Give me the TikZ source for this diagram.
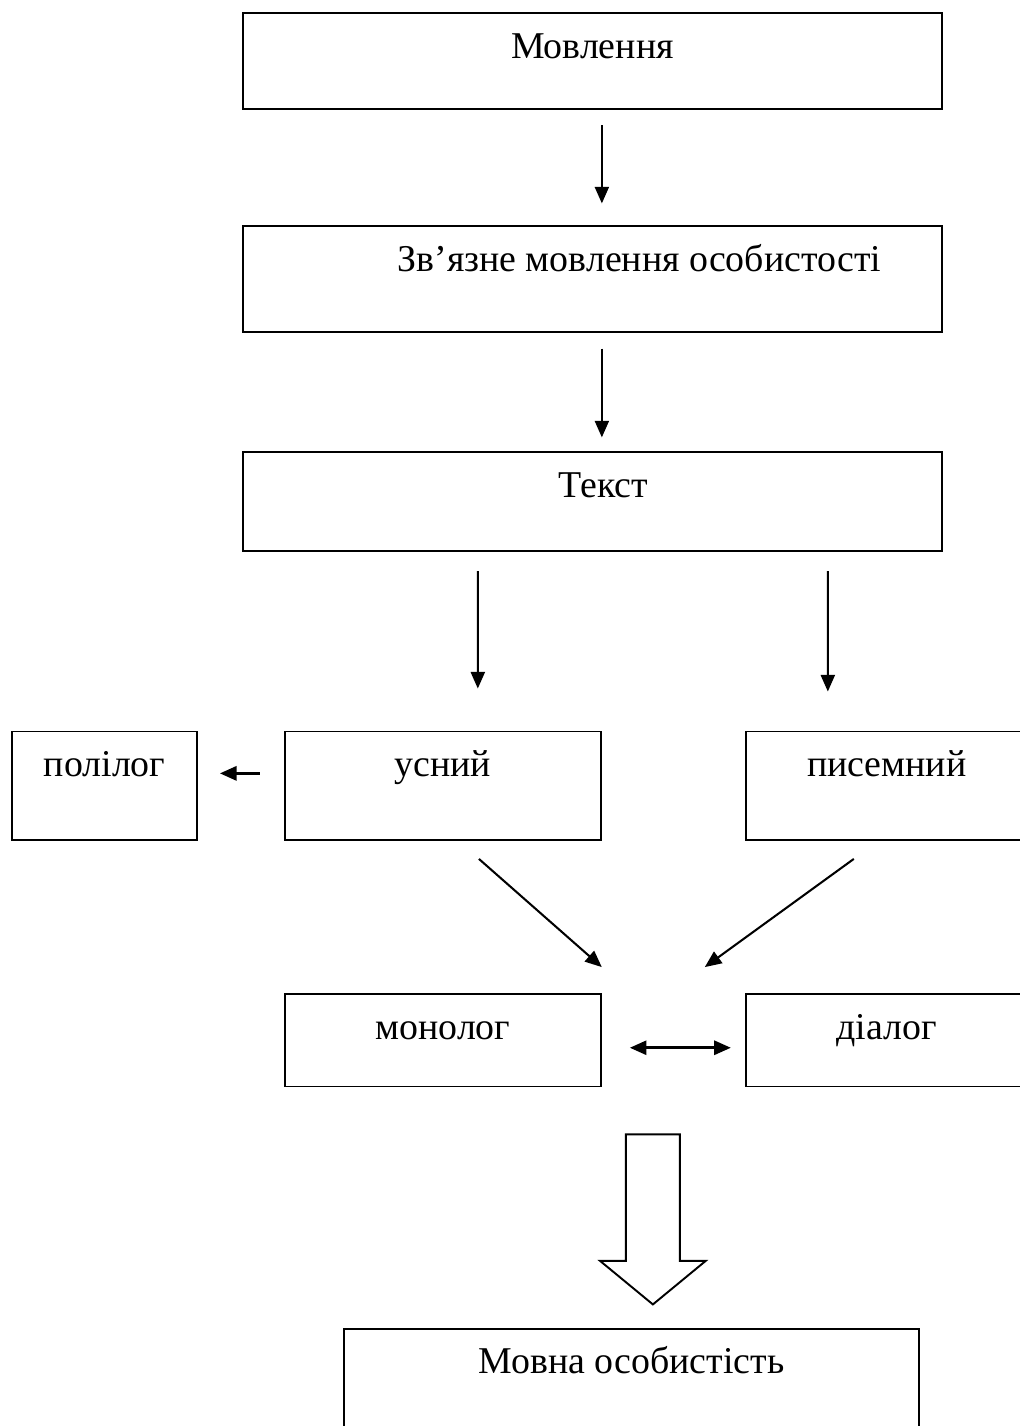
\documentclass[tikz,border=0pt]{standalone}
\usepackage{fontspec}
\setmainfont{Liberation Serif}
\usetikzlibrary{calc}
\usetikzlibrary{positioning}
\usetikzlibrary{arrows.meta,shapes.arrows}
\tikzset{box/.style={draw, line width=0.75pt, inner sep=0pt, text height=0.62cm}}

\begin{document}
\begin{tikzpicture}[>={Triangle[length=6.5pt,width=5.5pt]}, every node/.style={font=\fontsize{14.8}{17}\selectfont}]
  \useasboundingbox (0,0) rectangle (14,-19.59);

  \node [box, minimum width=9.6cm, text depth=0.705cm, anchor=north west] (speech) at (3.325,-0.165) {Мовлення};
  \node [box, minimum width=9.6cm, text depth=0.828cm, below=1.58cm of speech] (coherent) {\hspace*{1.29cm}Зв’язне мовлення особистості};
  \node [box, minimum width=9.6cm, text depth=0.73cm, below=1.63cm of coherent] (text) {\hspace*{0.3cm}Текст};

  \node [box, minimum width=4.34cm, text depth=0.87cm, anchor=north] (oral) at ($(text.south)+(-2.054,-2.459)$) {усний};
  \node [box, minimum width=2.54cm, text depth=0.87cm, left=1.18cm of oral] (poly) {полілог};
  \node [box, minimum width=3.874cm, text depth=0.87cm, right=1.965cm of oral] (written) {писемний};

  \node [box, minimum width=4.34cm, text depth=0.65cm, below=2.09cm of oral] (monolog) {монолог};
  \node [box, minimum width=3.874cm, text depth=0.65cm, below=2.09cm of written] (dialog) {діалог};

  \node [box, minimum width=7.9cm, text depth=1.03cm, anchor=north] (final) at ($(monolog.south)+(2.59,-3.3)$) {Мовна особистість};

  \node [single arrow, draw, line width=0.75pt, rotate=-90, anchor=tip, inner xsep=0pt, inner ysep=0.357cm, minimum height=2.336cm, minimum width=1.429cm, single arrow head extend=0.357cm, single arrow tip angle=101] (bigarrow) at ($(final.north)+(0.295,0.302)$) {};

  \draw [->, thick] ([xshift=0.13cm,yshift=-0.206cm]speech.south) -- ([xshift=0.13cm,yshift=0.302cm]coherent.north);
  \draw [->, thick] ([xshift=0.13cm,yshift=-0.22cm]coherent.south) -- ([xshift=0.13cm,yshift=0.192cm]text.north);
  \draw [->, thick] ($(text.south -| oral.north)+(0.48,-0.27)$) -- ([xshift=0.48cm,yshift=0.577cm]oral.north);
  \draw [->, thick] ($(text.south -| written.north)+(-0.81,-0.27)$) -- ([xshift=-0.81cm,yshift=0.536cm]written.north);
  \draw [->, line width=1.1pt] ([xshift=-0.33cm,yshift=0.17cm]oral.west) -- ([xshift=0.3cm,yshift=0.17cm]poly.east);
  \draw [->, thick] ([xshift=0.495cm,yshift=-0.247cm]oral.south) -- ([yshift=0.357cm]monolog.north east);
  \draw [->, thick] ([xshift=-0.453cm,yshift=-0.247cm]written.south) -- ([xshift=-0.55cm,yshift=0.357cm]dialog.north west);
  \draw [<->, line width=1pt] ([xshift=0.385cm,yshift=-0.103cm]monolog.east) -- ([xshift=-0.192cm,yshift=-0.103cm]dialog.west);
\end{tikzpicture}
\end{document}
